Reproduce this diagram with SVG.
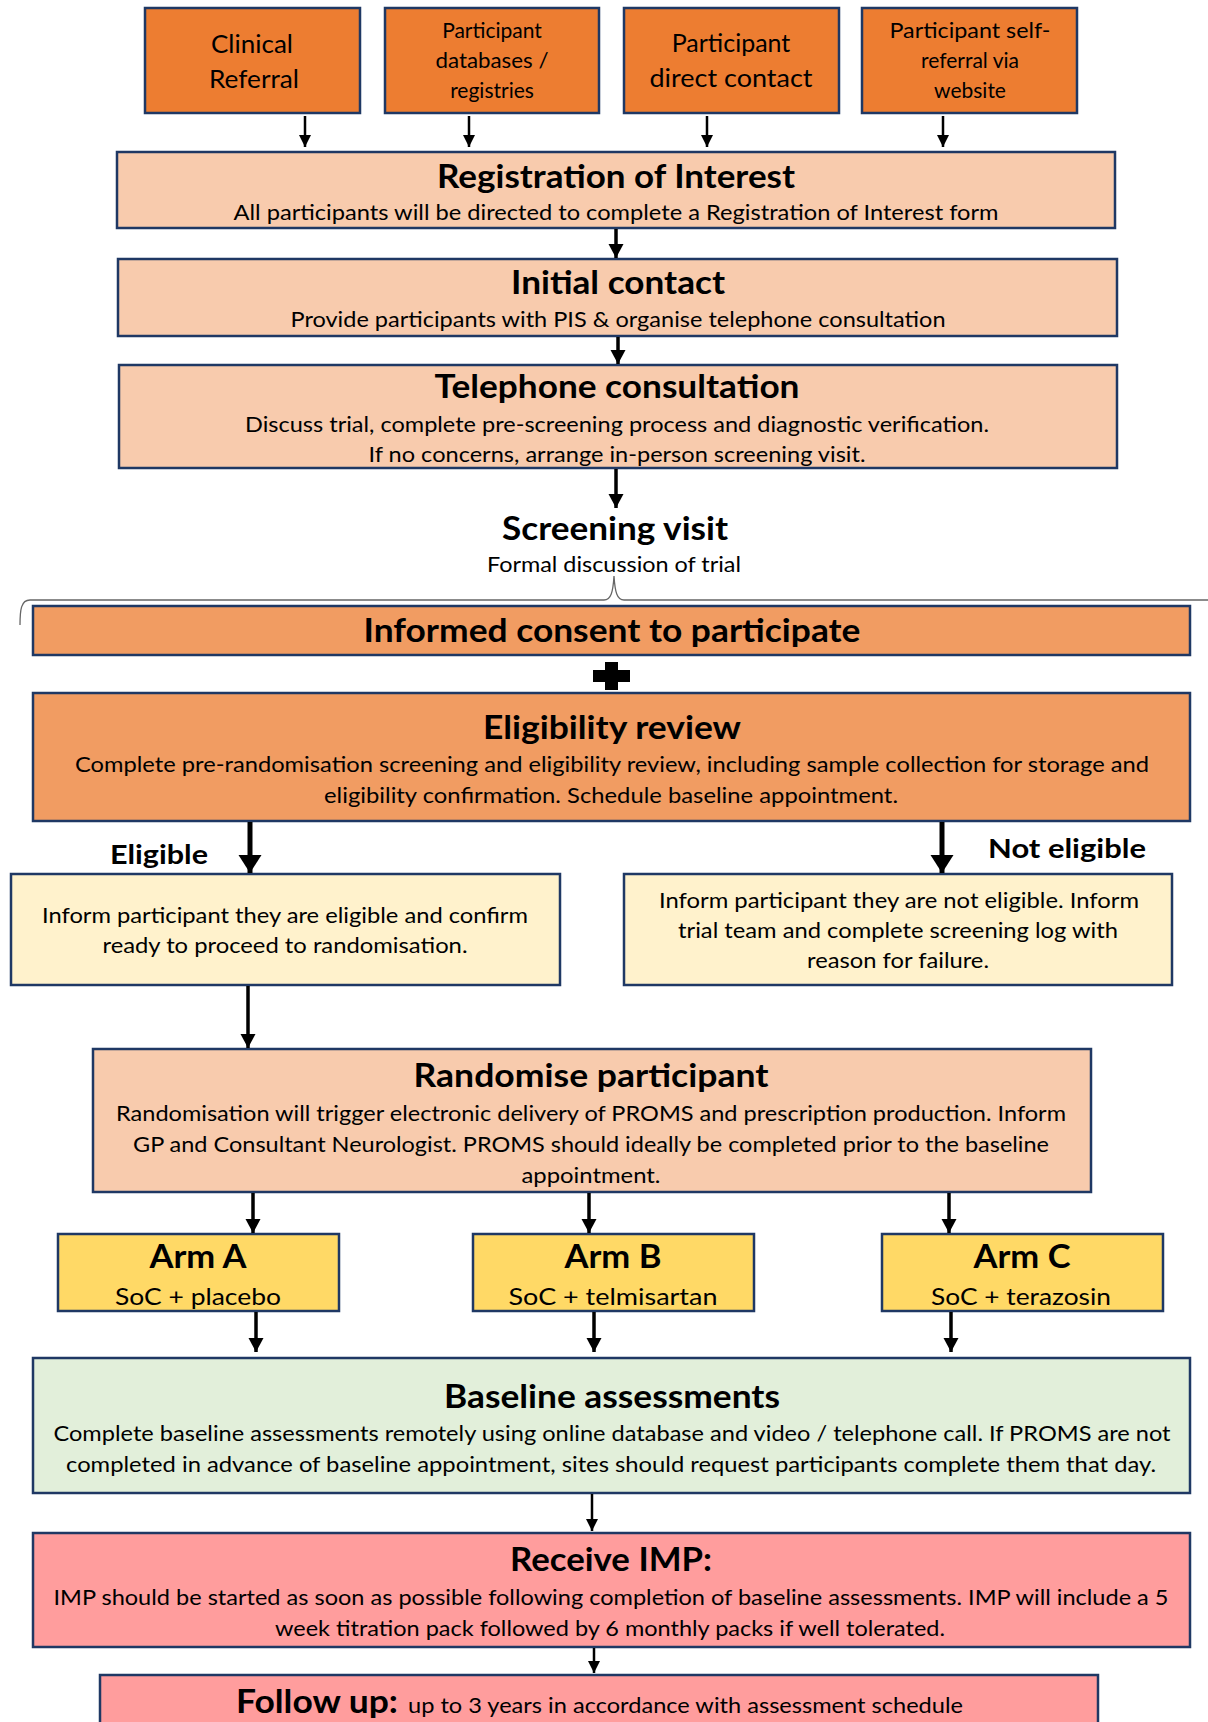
<svg xmlns="http://www.w3.org/2000/svg" width="1208" height="1722" viewBox="0 0 1208 1722">
  <style>
    .box { stroke: #1F3864; stroke-width: 2.5; }
    .src { fill: #ED7D31; }
    .peach { fill: #F8CBAD; }
    .orange { fill: #F19C62; }
    .cream { fill: #FFF2CC; }
    .arm { fill: #FFD966; }
    .green { fill: #E2EFDA; }
    .red { fill: #FF9D9D; }
    text { font-family: Lato, "Open Sans", "Liberation Sans", sans-serif; fill: #000; text-anchor: middle; }
    .t { font-weight: bold; font-size: 32px; }
    .s { font-size: 21px; }
    .m { font-size: 24px; }
    .lbl { font-weight: bold; font-size: 27px; text-anchor: start; }
    .ln { stroke: #000; fill: none; }
    .thin { stroke-width: 2.5; marker-end: url(#headS); }
    .mid { stroke-width: 3.5; marker-end: url(#headM); }
    .thick { stroke-width: 5; marker-end: url(#headL); }
  </style>
  <defs>
    <marker id="headS" markerUnits="userSpaceOnUse" markerWidth="14" markerHeight="14" refX="12" refY="6" orient="auto">
      <path d="M0,0 L12,6 L0,12 Z" fill="#000"/>
    </marker>
    <marker id="headM" markerUnits="userSpaceOnUse" markerWidth="18" markerHeight="18" refX="14" refY="7.5" orient="auto">
      <path d="M0,0 L14,7.5 L0,15 Z" fill="#000"/>
    </marker>
    <marker id="headL" markerUnits="userSpaceOnUse" markerWidth="26" markerHeight="26" refX="18" refY="11.5" orient="auto">
      <path d="M0,0 L18,11.5 L0,23 Z" fill="#000"/>
    </marker>
  </defs>

  <!-- referral sources -->
  <g id="clinical-referral">
    <rect class="box src" x="145" y="8" width="215" height="105"/>
    <text x="252" y="53" font-size="25" textLength="82" lengthAdjust="spacingAndGlyphs">Clinical</text>
    <text x="254" y="88" font-size="25" textLength="90" lengthAdjust="spacingAndGlyphs">Referral</text>
  </g>
  <g id="participant-databases">
    <rect class="box src" x="385" y="8" width="214" height="105"/>
    <text x="492" y="38" class="s">Participant</text>
    <text x="492" y="68" class="s" textLength="113" lengthAdjust="spacingAndGlyphs">databases /</text>
    <text x="492" y="98" class="s">registries</text>
  </g>
  <g id="participant-direct-contact">
    <rect class="box src" x="624" y="8" width="215" height="105"/>
    <text x="731" y="52" font-size="25">Participant</text>
    <text x="731" y="87" font-size="25" textLength="163" lengthAdjust="spacingAndGlyphs">direct contact</text>
  </g>
  <g id="participant-self-referral">
    <rect class="box src" x="862" y="8" width="215" height="105"/>
    <text x="970" y="38" class="s" textLength="161" lengthAdjust="spacingAndGlyphs">Participant self-</text>
    <text x="970" y="68" class="s">referral via</text>
    <text x="970" y="98" class="s">website</text>
  </g>

  <!-- main pathway -->
  <g id="registration-of-interest">
    <rect class="box peach" x="117" y="152" width="998" height="76"/>
    <text x="616" y="188" class="t" textLength="358" lengthAdjust="spacingAndGlyphs">Registration of Interest</text>
    <text x="616" y="220" class="s" textLength="765" lengthAdjust="spacingAndGlyphs">All participants will be directed to complete a Registration of Interest form</text>
  </g>
  <g id="initial-contact">
    <rect class="box peach" x="118" y="259" width="999" height="77"/>
    <text x="618" y="294" class="t" textLength="214" lengthAdjust="spacingAndGlyphs">Initial contact</text>
    <text x="618" y="327" class="s" textLength="655" lengthAdjust="spacingAndGlyphs">Provide participants with PIS &amp; organise telephone consultation</text>
  </g>
  <g id="telephone-consultation">
    <rect class="box peach" x="119" y="365" width="998" height="103"/>
    <text x="617" y="398" class="t" textLength="365" lengthAdjust="spacingAndGlyphs">Telephone consultation</text>
    <text x="617" y="432" class="s" textLength="744" lengthAdjust="spacingAndGlyphs">Discuss trial, complete pre-screening process and diagnostic verification.</text>
    <text x="617" y="462" class="s" textLength="497" lengthAdjust="spacingAndGlyphs">If no concerns, arrange in-person screening visit.</text>
  </g>
  <g id="screening-visit">
    <text x="615" y="540" class="t" textLength="226" lengthAdjust="spacingAndGlyphs">Screening visit</text>
    <text x="614" y="572" class="s" textLength="254" lengthAdjust="spacingAndGlyphs">Formal discussion of trial</text>
    <path d="M20,625 C20,610 21,600 30,600 L604,600 C611,600 613,592 614,576 C615,592 617,600 624,600 L1208,600" fill="none" stroke="#666" stroke-width="1.3"/>
  </g>
  <g id="informed-consent">
    <rect class="box orange" x="33" y="606" width="1157" height="49"/>
    <text x="612" y="642" class="t" textLength="497" lengthAdjust="spacingAndGlyphs">Informed consent to participate</text>
  </g>
  <g id="plus-sign">
    <path d="M605,662 H618 V670 H630 V682 H618 V690 H605 V682 H593 V670 H605 Z" fill="#000"/>
  </g>
  <g id="eligibility-review">
    <rect class="box orange" x="33" y="693" width="1157" height="128"/>
    <text x="612" y="739" class="t" textLength="258" lengthAdjust="spacingAndGlyphs">Eligibility review</text>
    <text x="612" y="772" class="s" textLength="1074" lengthAdjust="spacingAndGlyphs">Complete pre-randomisation screening and eligibility review, including sample collection for storage and</text>
    <text x="611" y="803" class="s" textLength="574" lengthAdjust="spacingAndGlyphs">eligibility confirmation. Schedule baseline appointment.</text>
  </g>
  <g id="eligible">
    <text x="110" y="864" class="lbl" textLength="98" lengthAdjust="spacingAndGlyphs">Eligible</text>
    <rect class="box cream" x="11" y="874" width="549" height="111"/>
    <text x="285" y="923" class="s" textLength="486" lengthAdjust="spacingAndGlyphs">Inform participant they are eligible and confirm</text>
    <text x="285" y="953" class="s" textLength="365" lengthAdjust="spacingAndGlyphs">ready to proceed to randomisation.</text>
  </g>
  <g id="not-eligible">
    <text x="988" y="858" class="lbl" textLength="158" lengthAdjust="spacingAndGlyphs">Not eligible</text>
    <rect class="box cream" x="624" y="874" width="548" height="111"/>
    <text x="899" y="908" class="s" textLength="480" lengthAdjust="spacingAndGlyphs">Inform participant they are not eligible. Inform</text>
    <text x="898" y="938" class="s" textLength="440" lengthAdjust="spacingAndGlyphs">trial team and complete screening log with</text>
    <text x="898" y="968" class="s" textLength="182" lengthAdjust="spacingAndGlyphs">reason for failure.</text>
  </g>
  <g id="randomise-participant">
    <rect class="box peach" x="93" y="1049" width="998" height="143"/>
    <text x="591" y="1087" class="t" textLength="355" lengthAdjust="spacingAndGlyphs">Randomise participant</text>
    <text x="591" y="1121" class="s" textLength="950" lengthAdjust="spacingAndGlyphs">Randomisation will trigger electronic delivery of PROMS and prescription production. Inform</text>
    <text x="591" y="1152" class="s" textLength="916" lengthAdjust="spacingAndGlyphs">GP and Consultant Neurologist. PROMS should ideally be completed prior to the baseline</text>
    <text x="591" y="1183" class="s" textLength="139" lengthAdjust="spacingAndGlyphs">appointment.</text>
  </g>
  <g id="arm-a">
    <rect class="box arm" x="58" y="1234" width="281" height="77"/>
    <text x="198" y="1268" class="t" textLength="97" lengthAdjust="spacingAndGlyphs">Arm A</text>
    <text x="198" y="1305" class="m" textLength="166" lengthAdjust="spacingAndGlyphs">SoC + placebo</text>
  </g>
  <g id="arm-b">
    <rect class="box arm" x="473" y="1234" width="281" height="77"/>
    <text x="613" y="1268" class="t" textLength="97" lengthAdjust="spacingAndGlyphs">Arm B</text>
    <text x="613" y="1305" class="m" textLength="209" lengthAdjust="spacingAndGlyphs">SoC + telmisartan</text>
  </g>
  <g id="arm-c">
    <rect class="box arm" x="882" y="1234" width="281" height="77"/>
    <text x="1022" y="1268" class="t" textLength="97" lengthAdjust="spacingAndGlyphs">Arm C</text>
    <text x="1021" y="1305" class="m" textLength="180" lengthAdjust="spacingAndGlyphs">SoC + terazosin</text>
  </g>
  <g id="baseline-assessments">
    <rect class="box green" x="33" y="1358" width="1157" height="135"/>
    <text x="612" y="1408" class="t" textLength="336" lengthAdjust="spacingAndGlyphs">Baseline assessments</text>
    <text x="612" y="1441" class="s" textLength="1117" lengthAdjust="spacingAndGlyphs">Complete baseline assessments remotely using online database and video / telephone call. If PROMS are not</text>
    <text x="611" y="1472" class="s" textLength="1090" lengthAdjust="spacingAndGlyphs">completed in advance of baseline appointment, sites should request participants complete them that day.</text>
  </g>
  <g id="receive-imp">
    <rect class="box red" x="33" y="1533" width="1157" height="114"/>
    <text x="611" y="1571" class="t" textLength="202" lengthAdjust="spacingAndGlyphs">Receive IMP:</text>
    <text x="611" y="1605" class="s" textLength="1115" lengthAdjust="spacingAndGlyphs">IMP should be started as soon as possible following completion of baseline assessments. IMP will include a 5</text>
    <text x="610" y="1636" class="s" textLength="670" lengthAdjust="spacingAndGlyphs">week titration pack followed by 6 monthly packs if well tolerated.</text>
  </g>
  <g id="follow-up">
    <rect class="box red" x="100" y="1675" width="998" height="70"/>
    <text x="236" y="1713" class="t" style="text-anchor:start" textLength="162" lengthAdjust="spacingAndGlyphs">Follow up:</text>
    <text x="408" y="1713" class="s" style="text-anchor:start" textLength="555" lengthAdjust="spacingAndGlyphs">up to 3 years in accordance with assessment schedule</text>
  </g>

  <!-- connectors -->
  <g id="connectors">
    <line class="ln thin" x1="305" y1="116" x2="305" y2="147"/>
    <line class="ln thin" x1="469" y1="116" x2="469" y2="147"/>
    <line class="ln thin" x1="707" y1="116" x2="707" y2="147"/>
    <line class="ln thin" x1="943" y1="116" x2="943" y2="147"/>
    <line class="ln mid" x1="616" y1="229" x2="616" y2="258"/>
    <line class="ln mid" x1="618" y1="337" x2="618" y2="364"/>
    <line class="ln mid" x1="616" y1="469" x2="616" y2="508"/>
    <line class="ln thick" x1="250" y1="822" x2="250" y2="873"/>
    <line class="ln thick" x1="942" y1="822" x2="942" y2="873"/>
    <line class="ln mid" x1="248" y1="986" x2="248" y2="1048"/>
    <line class="ln mid" x1="253" y1="1193" x2="253" y2="1233"/>
    <line class="ln mid" x1="589" y1="1193" x2="589" y2="1233"/>
    <line class="ln mid" x1="949" y1="1193" x2="949" y2="1233"/>
    <line class="ln mid" x1="256" y1="1312" x2="256" y2="1352"/>
    <line class="ln mid" x1="594" y1="1312" x2="594" y2="1352"/>
    <line class="ln mid" x1="951" y1="1312" x2="951" y2="1352"/>
    <line class="ln thin" x1="592" y1="1494" x2="592" y2="1531"/>
    <line class="ln thin" x1="594" y1="1648" x2="594" y2="1673"/>
  </g>
</svg>
